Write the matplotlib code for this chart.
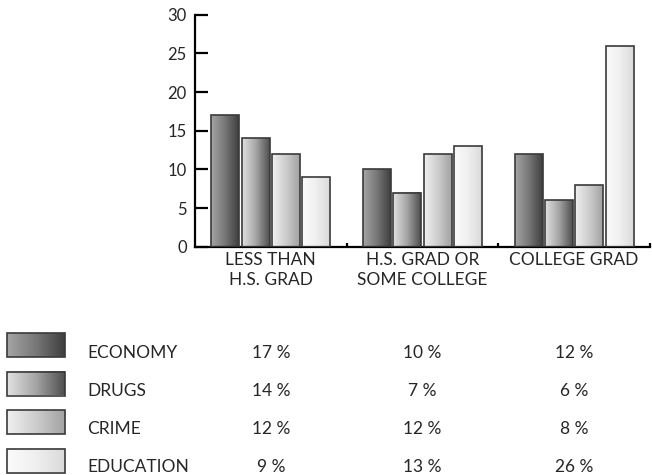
import numpy as np
import matplotlib.pyplot as plt
from matplotlib.colors import LinearSegmentedColormap
from matplotlib.patches import Rectangle
from matplotlib.transforms import blended_transform_factory

plt.rcParams['font.family'] = ['Lato', 'DejaVu Sans']

# Data
groups = ["LESS THAN\nH.S. GRAD", "H.S. GRAD OR\nSOME COLLEGE", "COLLEGE GRAD"]
issues = ["ECONOMY", "DRUGS", "CRIME", "EDUCATION"]
economy = [17, 10, 12]
drugs = [14, 7, 6]
crime = [12, 12, 8]
education = [9, 13, 26]
values = [economy, drugs, crime, education]

# left-to-right shading of each series
shades = [
    ["#a5a5a5", "#777777", "#3e3e3e"],
    ["#e2e2e2", "#a5a5a5", "#4e4e4e"],
    ["#f0f0f0", "#cdcdcd", "#a2a2a2"],
    ["#fbfbfb", "#efefef", "#dadada"],
]
cmaps = [LinearSegmentedColormap.from_list("s%d" % i, s) for i, s in enumerate(shades)]
grad = np.linspace(0, 1, 256).reshape(1, -1)
edge = "#3a3a3a"
txt = "#262626"

fig = plt.figure(figsize=(6.52, 4.75), dpi=100)
ax = fig.add_axes([195 / 652, 228.3 / 475, 455 / 652, 231.9 / 475])

x = np.arange(len(groups))
width = 0.184
for i, vals in enumerate(values):
    bars = ax.bar(x + (i - 1.5) * 0.2, vals, width, facecolor="none",
                  edgecolor=edge, linewidth=1.2, zorder=3)
    for b in bars:
        ax.imshow(grad, cmap=cmaps[i], aspect="auto", zorder=2,
                  extent=[b.get_x(), b.get_x() + b.get_width(), 0, b.get_height()])

ax.set_xlim(-0.5, 2.5)
ax.set_ylim(0, 30)
for s in ["top", "right"]:
    ax.spines[s].set_visible(False)
for s in ["left", "bottom"]:
    ax.spines[s].set_linewidth(1.6)

ax.set_yticks(range(0, 31, 5))
ax.tick_params(axis="y", direction="in", length=9, width=1.6, labelsize=12,
               pad=6, labelcolor=txt)
ax.set_xticks(x, groups)
ax.set_xticks([0.5, 1.5, 2.5], minor=True)
ax.tick_params(axis="x", which="major", length=0, pad=4, labelsize=12.5, labelcolor=txt)
ax.tick_params(axis="x", which="minor", direction="in", length=3, width=1.6)
for lab in ax.get_xticklabels():
    lab.set_linespacing(1.3)

# Legend table below the chart
lax = fig.add_axes([0, 0, 1, 1], zorder=-1)
lax.set_xlim(0, 652)
lax.set_ylim(475, 0)
lax.axis("off")
cols = blended_transform_factory(ax.transData, lax.transData)

for i, name in enumerate(issues):
    top = 333 + i * 38.5
    lax.imshow(grad, cmap=cmaps[i], aspect="auto", extent=[7, 65, top + 24, top])
    lax.add_patch(Rectangle((7, top), 58, 24, facecolor="none", edgecolor=edge, linewidth=1.2))
    ty = 352 + i * 37.8
    lax.text(87, ty, name, fontsize=12.5, color=txt, va="center_baseline", ha="left")
    for j, v in enumerate(values[i]):
        fig.text(x[j], ty, f"{v} %", transform=cols, fontsize=12.5, color=txt,
                 va="center_baseline", ha="center")

lax.set_xlim(0, 652)
lax.set_ylim(475, 0)

fig.savefig("out.png", dpi=100)
